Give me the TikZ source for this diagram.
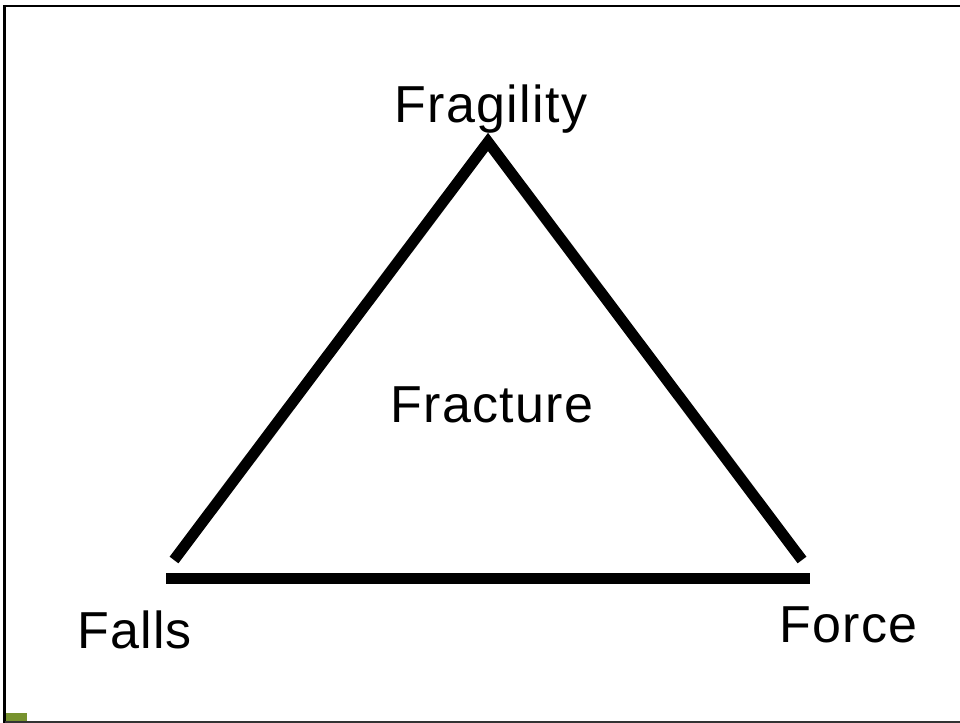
\documentclass[tikz,border=0pt]{standalone}
\usepackage{fontspec}
\setmainfont[LetterSpace=2.5]{Liberation Sans}
\definecolor{olivesq}{HTML}{77922E}
\definecolor{framegray}{HTML}{333333}
\tikzset{
  lbl/.style={anchor=base, inner sep=0pt, font=\fontsize{39}{44}\selectfont},
  side/.style={line width=8.25pt, black, line cap=butt},
  frameline/.style={line width=2pt, black},
}
\begin{document}
\begin{tikzpicture}[x=0.75pt,y=-0.75pt]
\useasboundingbox (0,0) rectangle (960,723);
\fill[white] (0,0) rectangle (960,723);
% frame
\draw[frameline] (3,6) -- (960,6);
\draw[frameline] (4.5,5) -- (4.5,723);
\draw[line width=1.8pt, framegray] (4.5,722) -- (960,722);
\fill[olivesq] (6,713) rectangle (27,721);
% triangle
\coordinate (apex) at (488,142);
\coordinate (bl) at (174,560);
\coordinate (br) at (802,560);
\coordinate (hl) at (166,578.5);
\coordinate (hr) at (810,578.5);
\draw[side, line join=miter] (bl) -- (apex) -- (br);
\draw[side] (hl) -- (hr);
% labels
\node[lbl] (fragility) at (491,123) {Fragility};
\node[lbl] (fracture) at (492,422) {Fracture};
\node[lbl] (falls) at (134.5,648) {Falls};
\node[lbl] (force) at (848.5,642) {Force};
\end{tikzpicture}
\end{document}
